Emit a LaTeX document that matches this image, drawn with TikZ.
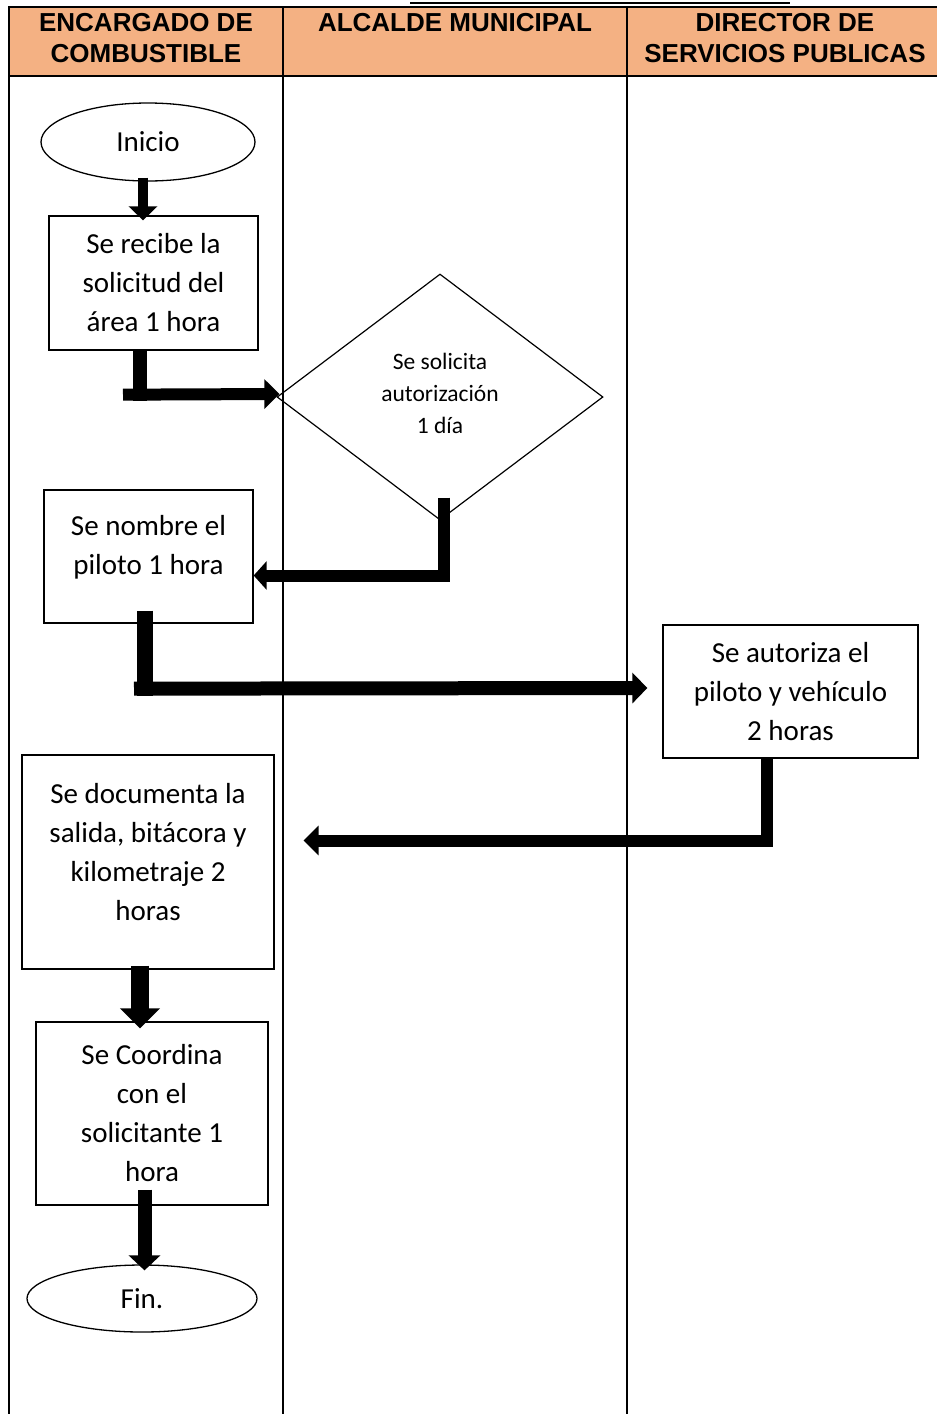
\documentclass[tikz,border=0pt]{standalone}
\usepackage{fontspec}
\setmainfont{Carlito}
\newfontfamily\hdrfont{Liberation Sans}
\usetikzlibrary{shapes.geometric,arrows.meta}
\definecolor{hdrfill}{HTML}{F4B183}
\tikzset{
  lane/.style={line width=1.6pt},
  box/.style={draw, line width=1.3pt, rectangle, align=center, inner sep=0pt,
              font=\fontsize{29}{39}\selectfont},
  boxtext/.style={align=center, inner sep=0pt, font=\fontsize{29}{39}\selectfont},
  term/.style={draw, line width=1.3pt, ellipse, inner sep=0pt,
              font=\fontsize{29}{39}\selectfont},
  decision/.style={draw, line width=1.2pt, diamond, inner sep=0pt},
  dectext/.style={align=center, inner sep=0pt, font=\fontsize{23.5}{32}\selectfont},
  hdr/.style={anchor=north, align=center, inner sep=0pt,
              font=\hdrfont\bfseries\fontsize{26}{31}\selectfont},
  flow/.style={line join=miter, line cap=butt},
}
\begin{document}
\begin{tikzpicture}[x=1pt,y=-1pt]
\useasboundingbox (0,0) rectangle (937,1414);
% header
\fill[hdrfill] (9,7) rectangle (937,76);
\draw[line width=2pt] (410,3) -- (790,3);
\draw[lane] (8.2,7) -- (937,7);
\draw[lane] (8.2,76) -- (937,76);
\draw[lane] (9,7) -- (9,1414);
\draw[lane] (283,7) -- (283,1414);
\draw[lane] (627,7) -- (627,1414);
\node[hdr] (h1) at (146,13.5) {ENCARGADO DE\\COMBUSTIBLE};
\node[hdr] (h2) at (455,13.5) {ALCALDE MUNICIPAL};
\node[hdr] (h3) at (785,13.5) {DIRECTOR DE\\SERVICIOS PUBLICAS};
% nodes
\node[term, minimum width=214pt, minimum height=78pt] (inicio) at (148,142) {Inicio};
\node[box, minimum width=209pt, minimum height=134pt] (b1) at (153.5,283) {Se recibe la\\solicitud del\\área 1 hora};
\node[decision, minimum width=326pt, minimum height=246pt,
      label={[dectext, yshift=4pt]center:{Se solicita\\autorización\\1 día}}] (dia) at (440,397) {};
\node[box, minimum width=209pt, minimum height=133pt,
      label={[boxtext, yshift=9pt]center:{Se nombre el\\piloto 1 hora}}] (b2) at (148.5,556.5) {};
\node[box, minimum width=255pt, minimum height=133pt] (b3) at (790.5,691.5) {Se autoriza el\\piloto y vehículo\\2 horas};
\node[box, minimum width=252pt, minimum height=214pt,
      label={[boxtext, yshift=10pt]center:{Se documenta la\\salida, bitácora y\\kilometraje 2\\horas}}] (b4) at (148,862) {};
\node[box, minimum width=232pt, minimum height=183pt] (b5) at (152,1113.5) {Se Coordina\\con el\\solicitante 1\\hora};
\node[term, minimum width=230pt, minimum height=67pt] (fin) at (142,1298.5) {Fin.};
% connectors
\draw[flow, line width=10pt, -{Triangle[length=14pt,width=28pt]}]
  ([xshift=-5pt,yshift=4pt]inicio.south) -- ([xshift=-10.5pt,yshift=-5pt]b1.north);
\draw[flow, line width=14pt] ([xshift=-14pt]b1.south) -- ++(0,50);
\draw[flow, line width=12pt, -{Triangle[length=15pt,width=29pt]}]
  ([xshift=-30.5pt,yshift=-44pt]b1.south) -- ([xshift=3pt,yshift=3pt]dia.west);
\draw[flow, line width=12pt, -{Triangle[length=13pt,width=28pt]}]
  ([xshift=4pt,yshift=23pt]dia.south) |- ([yshift=-19pt]b2.east);
\draw[flow, line width=16pt] ([xshift=-3.5pt,yshift=13pt]b2.south) -- ++(0,85);
\draw[flow, line width=14pt, -{Triangle[length=15pt,width=30pt]}]
  ([xshift=-14.5pt,yshift=-65pt]b2.south) -- ([xshift=-15pt,yshift=3.5pt]b3.west);
\draw[flow, line width=12pt, -{Triangle[length=15pt,width=29pt]}]
  ([xshift=-24pt]b3.south) |- ([xshift=29pt,yshift=21.5pt]b4.east);
\draw[flow, line width=18pt, -{Triangle[length=20pt,width=39pt]}]
  ([xshift=-8pt,yshift=4pt]b4.south) -- ([xshift=-12pt,yshift=-7pt]b5.north);
\draw[flow, line width=14pt, -{Triangle[length=15pt,width=31pt]}]
  ([xshift=-7.5pt,yshift=16pt]b5.south) -- ([xshift=2.5pt,yshift=-6pt]fin.north);
\end{tikzpicture}
\end{document}
